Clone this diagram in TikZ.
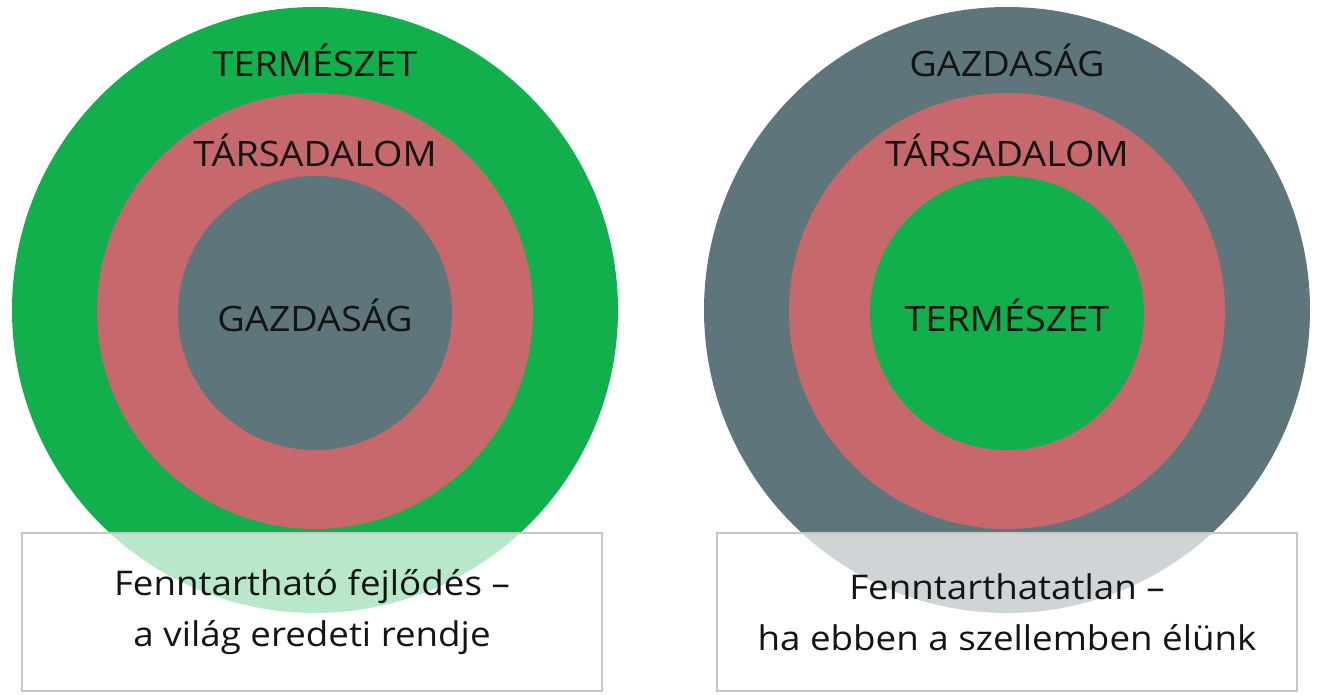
\documentclass[tikz,border=0pt]{standalone}
\usepackage{fontspec}
\setmainfont[FakeStretch=1.08]{Open Sans}
\usetikzlibrary{positioning}
\definecolor{natgreen}{RGB}{17,176,77}
\definecolor{socred}{RGB}{199,104,108}
\definecolor{econgray}{RGB}{94,117,123}
\definecolor{ink}{RGB}{20,20,20}
\begin{document}
\begin{tikzpicture}[x=1pt,y=-1pt,
    ring/.style={circle,inner sep=0pt,minimum size=#1},
    biglabel/.style={font=\fontsize{35}{40}\selectfont,text=ink},
    caption/.style={draw=black!22,line width=1.5pt,fill=white,fill opacity=0.7,text opacity=1,
        minimum width=580pt,minimum height=158pt,inner sep=0pt,align=center,
        font=\fontsize{34}{51}\selectfont,text=ink}]
\useasboundingbox (0,0) rectangle (1317,695);
% two panels: outer ring, society, inner circle
\foreach \cx/\outer/\inner/\toplabel/\innerlabel/\name in
    {315/natgreen/econgray/TERMÉSZET/GAZDASÁG/left,
     1007/econgray/natgreen/GAZDASÁG/TERMÉSZET/right}
{
    \node[ring=606pt,fill=\outer] (outer-\name) at (\cx,310) {};
    \node[ring=436pt,fill=socred] (soc-\name) at (\cx,311) {};
    \node[ring=274pt,fill=\inner] (inner-\name) at (\cx,313) {};
    \node[biglabel] at (\cx,60) {\toplabel};
    \node[biglabel] at (\cx,150) {TÁRSADALOM};
    \node[biglabel] at (\cx,315) {\innerlabel};
}
\node[caption] (cap-left) at (312,612) {Fenntartható fejlődés –\\a világ eredeti rendje};
\node[caption] (cap-right) at (1007,612) {Fenntarthatatlan –\\ha ebben a szellemben élünk};
\end{tikzpicture}
\end{document}
